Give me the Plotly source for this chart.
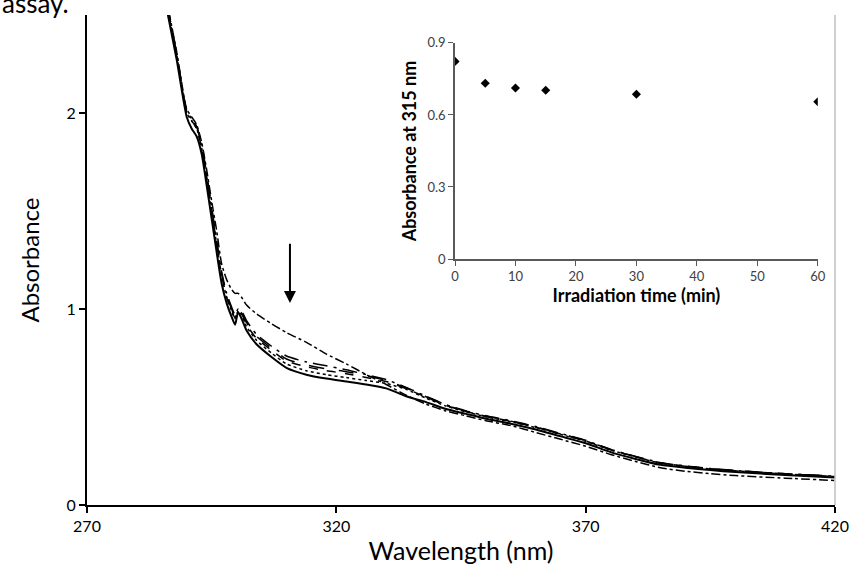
import plotly.graph_objects as go

# ---------------- data ----------------
wavelength = [285, 288, 290, 291, 292, 293, 294, 295, 296, 297, 298, 299, 299.7, 300.3, 301, 302,
              304, 307, 310, 314, 318, 322, 326, 330, 334, 338, 342, 346, 350, 355, 360, 365,
              370, 375, 380, 385, 390, 395, 400, 410, 420]

abs_0min = [2.70, 2.31, 2.02, 1.98, 1.94, 1.85, 1.71, 1.55, 1.40, 1.23, 1.15, 1.10, 1.08, 1.08, 1.06, 1.02,
            0.975, 0.925, 0.88, 0.83, 0.77, 0.72, 0.665, 0.615, 0.56, 0.515, 0.48, 0.455, 0.43, 0.405, 0.37, 0.335,
            0.30, 0.258, 0.222, 0.19, 0.172, 0.16, 0.15, 0.137, 0.125]
abs_5min = [2.69, 2.30, 2.01, 1.97, 1.93, 1.84, 1.69, 1.52, 1.35, 1.19, 1.08, 1.01, 0.97, 1.00, 0.99, 0.94,
            0.87, 0.81, 0.76, 0.73, 0.71, 0.69, 0.665, 0.64, 0.60, 0.555, 0.512, 0.48, 0.455, 0.43, 0.40, 0.365,
            0.33, 0.284, 0.248, 0.216, 0.199, 0.186, 0.176, 0.16, 0.147]
abs_10min = [2.69, 2.30, 2.01, 1.97, 1.93, 1.83, 1.68, 1.51, 1.34, 1.18, 1.07, 1.00, 0.96, 0.995, 0.98, 0.93,
             0.86, 0.80, 0.745, 0.715, 0.695, 0.68, 0.66, 0.635, 0.597, 0.552, 0.51, 0.478, 0.453, 0.428, 0.398, 0.363,
             0.328, 0.283, 0.247, 0.215, 0.198, 0.185, 0.175, 0.159, 0.146]
abs_15min = [2.68, 2.29, 2.00, 1.96, 1.92, 1.82, 1.67, 1.50, 1.33, 1.17, 1.06, 0.99, 0.955, 0.99, 0.975, 0.92,
             0.85, 0.79, 0.735, 0.705, 0.685, 0.67, 0.65, 0.63, 0.594, 0.55, 0.508, 0.477, 0.452, 0.427, 0.397, 0.362,
             0.327, 0.282, 0.246, 0.214, 0.198, 0.185, 0.175, 0.159, 0.146]
abs_30min = [2.68, 2.29, 2.00, 1.96, 1.92, 1.82, 1.67, 1.50, 1.33, 1.17, 1.06, 0.99, 0.95, 0.99, 0.97, 0.91,
             0.84, 0.775, 0.72, 0.685, 0.665, 0.65, 0.635, 0.62, 0.59, 0.545, 0.505, 0.475, 0.45, 0.425, 0.395, 0.36,
             0.325, 0.28, 0.245, 0.213, 0.197, 0.184, 0.174, 0.158, 0.145]
abs_60min = [2.66, 2.27, 1.98, 1.92, 1.88, 1.79, 1.63, 1.46, 1.29, 1.13, 1.03, 0.96, 0.92, 0.985, 0.95, 0.89,
             0.82, 0.755, 0.70, 0.665, 0.645, 0.63, 0.615, 0.595, 0.555, 0.525, 0.49, 0.465, 0.44, 0.415, 0.385, 0.35,
             0.315, 0.27, 0.235, 0.205, 0.19, 0.178, 0.168, 0.153, 0.14]

series = [
    ("0 min", abs_0min, "dashdot", 1.5),
    ("5 min", abs_5min, "longdashdot", 1.5),
    ("10 min", abs_10min, "longdash", 1.5),
    ("15 min", abs_15min, "dash", 1.5),
    ("30 min", abs_30min, "dot", 1.5),
    ("60 min", abs_60min, "solid", 2),
]

irradiation_time = [0, 5, 10, 15, 30, 60]
abs_315 = [0.823, 0.732, 0.712, 0.703, 0.686, 0.655]

main_xticks = [270, 320, 370, 420]
main_yticks = [0, 1, 2]
inset_xticks = [0, 10, 20, 30, 40, 50, 60]
inset_yticks = [0, 0.3, 0.6, 0.9]

FONT = "Lato"

fig = go.Figure()
for name, vals, dash, w in series:
    fig.add_trace(go.Scatter(x=wavelength, y=vals, mode="lines", name=name,
                             line=dict(color="black", dash=dash, width=w, shape="spline", smoothing=0.6),
                             xaxis="x", yaxis="y", showlegend=False))

fig.add_trace(go.Scatter(x=irradiation_time, y=abs_315, mode="markers",
                         marker=dict(symbol="diamond", size=7, color="black"),
                         xaxis="x2", yaxis="y2", showlegend=False))

fig.update_layout(
    width=854, height=574,
    margin=dict(l=87, r=19, t=15, b=69, autoexpand=False),
    paper_bgcolor="white", plot_bgcolor="white",
    font=dict(family=FONT, color="black"),
    xaxis=dict(domain=[0, 1], range=[270, 420], tickvals=main_xticks, ticks="outside", ticklen=6,
               tickwidth=2, tickcolor="black", showline=True, linecolor="black", linewidth=2,
               showgrid=False, zeroline=False, automargin=False, tickfont=dict(size=16, family=FONT),
               title=dict(text="Wavelength (nm)", font=dict(size=25, family=FONT), standoff=8)),
    yaxis=dict(domain=[0, 1], range=[0, 2.5], tickvals=main_yticks, ticks="outside", ticklen=6,
               tickwidth=2, tickcolor="black", showline=True, linecolor="black", linewidth=2,
               showgrid=False, zeroline=False, automargin=False, tickfont=dict(size=16, family=FONT),
               title=dict(text="Absorbance", font=dict(size=24, family=FONT), standoff=20)),
    xaxis2=dict(domain=[0.492, 0.977], range=[0, 60], tickvals=inset_xticks, anchor="y2",
                ticks="outside", ticklen=5, tickcolor="#595959", showline=True, linecolor="#595959",
                linewidth=1.5, showgrid=False, zeroline=False, automargin=False,
                tickfont=dict(size=13, family=FONT, color="#404040"),
                title=dict(text="<b>Irradiation time (min)</b>", font=dict(size=18, family=FONT), standoff=6)),
    yaxis2=dict(domain=[0.502, 0.943], range=[0, 0.9], tickvals=inset_yticks, anchor="x2",
                ticks="outside", ticklen=5, tickcolor="#595959", showline=True, linecolor="#595959",
                linewidth=1.5, showgrid=False, zeroline=False, automargin=False,
                tickfont=dict(size=13, family=FONT, color="#404040"),
                title=dict(text="<b>Absorbance at 315 nm</b>", font=dict(size=18, family=FONT), standoff=6)),
)

# light grey right border of the plot area
fig.add_shape(type="line", xref="paper", yref="paper", x0=1, x1=1, y0=0, y1=1,
              line=dict(color="#bfbfbf", width=1.5))

# downward arrow
fig.add_annotation(x=310.7, y=1.03, ax=310.7, ay=1.34, xref="x", yref="y", axref="x", ayref="y",
                   text="", showarrow=True, arrowhead=2, arrowsize=1.2, arrowwidth=2, arrowcolor="black")

# caption fragment at the top left (partly outside the page, as in the original crop)
fig.add_annotation(x=-87 / 748, y=0.988, xref="paper", yref="paper", xanchor="left", yanchor="bottom",
                   text="assay.", showarrow=False, font=dict(size=26, family=FONT, color="black"))

fig.write_html("out.html")
